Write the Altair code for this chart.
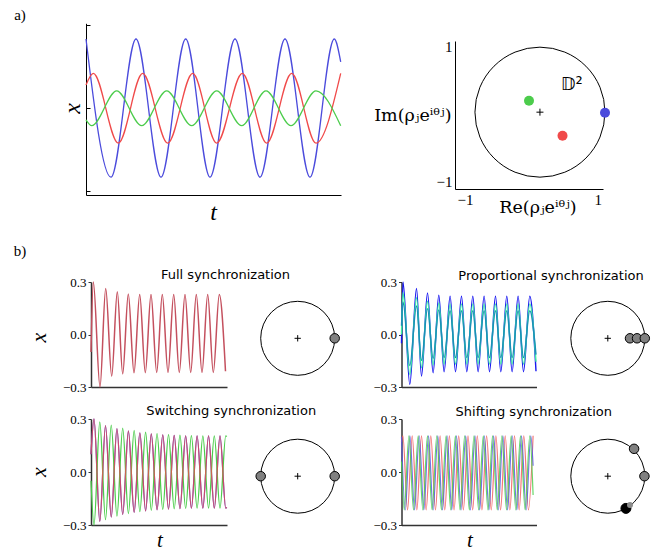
import altair as alt
import pandas as pd

W, H = 648, 542

# ---------------- panel a) : time series (extrema read from the picture) ----
A_BLUE_T = [0, 25, 50, 75, 99.7, 124, 149, 174, 199, 224, 248.3, 254.7]
A_BLUE_X = [0.835, -0.83, 0.835, -0.83, 0.835, -0.83, 0.835, -0.83, 0.835, -0.83, 0.835, 0.56]
A_RED_T = [0, 7.3, 32.3, 56.7, 81.7, 106.7, 130.7, 156.3, 180.7, 205.7, 230, 254.7]
A_RED_X = [0.28, 0.42, -0.42, 0.42, -0.42, 0.42, -0.42, 0.42, -0.42, 0.42, -0.42, 0.42]
A_GREEN_T = [0, 5.7, 30.7, 55.7, 80.7, 105.7, 130.7, 155.7, 180, 205, 230, 254.7]
A_GREEN_X = [-0.14, -0.21, 0.21, -0.21, 0.21, -0.21, 0.21, -0.21, 0.21, -0.21, 0.21, -0.21]

# panel a) : unit disk
DISK_CENTER = [0.13, 0.03]
DISK_DOT_X = [-0.035, 0.47, 1.11]
DISK_DOT_Y = [0.2, -0.32, 0.02]
DISK_DOT_COLOR = ["#4ccc4c", "#f04a4a", "#4b4bdc"]

# ---------------- panel b) : Full synchronization ----
FULL_T = [0, 2.3, 9, 14.7, 20.7, 26.3, 31.7, 37.3, 43, 48.7, 54.3, 60, 65.7, 71.3,
          77, 82.7, 88.3, 94, 99.7, 105.3, 111, 116.7, 122.3, 128.3, 134.5]
FULL_X = [-0.1, 0.3, -0.3, 0.263, -0.238, 0.244, -0.225, 0.232, -0.219, 0.229,
          -0.218, 0.228, -0.217, 0.228, -0.217, 0.228, -0.217, 0.228, -0.217, 0.228,
          -0.217, 0.228, -0.217, 0.228, -0.21]
FULL_DOT_X = [1.0]
FULL_DOT_Y = [0.0]

# Proportional synchronization
PROP_T = [0, 1.5, 8.3, 15, 20, 26, 31.6, 37.3, 42.6, 48.6, 54, 60, 65.3, 71.3,
          76.6, 82.6, 88, 94, 99.3, 105.3, 110.6, 116.6, 122, 128.3, 134.5]
PROP_BLUE = [-0.05, 0.3, -0.286, 0.263, -0.238, 0.238, -0.219, 0.225, -0.213, 0.219,
             -0.213, 0.219, -0.213, 0.219, -0.213, 0.219, -0.213, 0.219, -0.213, 0.219,
             -0.213, 0.219, -0.213, 0.219, -0.21]
PROP_GREEN = [0.0, 0.24, -0.229, 0.21, -0.19, 0.19, -0.175, 0.18, -0.17, 0.175,
              -0.17, 0.175, -0.17, 0.175, -0.17, 0.175, -0.17, 0.175, -0.17, 0.175,
              -0.17, 0.175, -0.17, 0.175, -0.156]
PROP_TEAL = [0.05, 0.186, -0.177, 0.163, -0.148, 0.148, -0.136, 0.14, -0.132, 0.136,
             -0.132, 0.136, -0.132, 0.136, -0.132, 0.136, -0.132, 0.136, -0.132, 0.136,
             -0.132, 0.136, -0.132, 0.136, -0.115]
PROP_DOT_X = [0.6, 0.79, 1.0]
PROP_DOT_Y = [0.0, 0.0, 0.0]

# Switching synchronization
SWITCH_T = [0, 3.0, 8.8, 14.5, 20.25, 25.95, 31.7, 37.4, 43.15, 48.85, 54.6, 60.3,
            66.05, 71.75, 77.5, 83.2, 88.95, 94.65, 100.4, 106.1, 111.85, 117.55,
            123.3, 129.0, 134.75, 135.7]
SWITCH_RED = [0.1, 0.3, -0.28, 0.262, -0.255, 0.245, -0.24, 0.232, -0.228, 0.222,
              -0.22, 0.215, -0.214, 0.21, -0.21, 0.207, -0.207, 0.205, -0.205, 0.205,
              -0.205, 0.205, -0.205, 0.205, -0.205, -0.2]
SWITCH_BLUE = [0.1, 0.3, -0.28, 0.262, -0.255, 0.245, -0.24, 0.232, -0.228, 0.222,
               -0.22, 0.215, -0.214, 0.21, -0.21, 0.207, -0.207, 0.205, -0.205, 0.205,
               -0.205, 0.205, -0.205, 0.205, -0.205, -0.2]
SWITCH_GREEN = [-0.05, -0.3, 0.283, -0.27, 0.265, -0.25, 0.248, -0.235, 0.235, -0.224,
                0.225, -0.217, 0.217, -0.212, 0.212, -0.208, 0.208, -0.206, 0.206, -0.205,
                0.205, -0.205, 0.205, -0.205, 0.205, 0.2]
SWITCH_DOT_X = [-1.0, 1.0]
SWITCH_DOT_Y = [0.0, 0.0]

# Shifting synchronization
SHIFT_BLUE_T = [0, 3.75, 8.4, 13.05, 17.7, 22.35, 27.0, 31.65, 36.3, 40.95, 45.6, 50.25,
                54.9, 59.55, 64.2, 68.85, 73.5, 78.15, 82.8, 87.45, 92.1, 96.75, 101.4,
                106.05, 110.7, 115.35, 120.0, 124.65, 129.3, 131.6]
SHIFT_BLUE_X = [0.2, -0.215, 0.205, -0.215, 0.205, -0.215, 0.205, -0.215, 0.205, -0.215,
                0.205, -0.215, 0.205, -0.215, 0.205, -0.215, 0.205, -0.215, 0.205, -0.215,
                0.205, -0.215, 0.205, -0.215, 0.205, -0.215, 0.205, -0.215, 0.205, 0.035]
SHIFT_GREEN_T = [0, 2.75, 7.4, 12.05, 16.7, 21.35, 26.0, 30.65, 35.3, 39.95, 44.6, 49.25,
                 53.9, 58.55, 63.2, 67.85, 72.5, 77.15, 81.8, 86.45, 91.1, 95.75, 100.4,
                 105.05, 109.7, 114.35, 119.0, 123.65, 128.3, 131.6]
SHIFT_GREEN_X = [0.06, -0.215, 0.205, -0.215, 0.205, -0.215, 0.205, -0.215, 0.205, -0.215,
                 0.205, -0.215, 0.205, -0.215, 0.205, -0.215, 0.205, -0.215, 0.205, -0.215,
                 0.205, -0.215, 0.205, -0.215, 0.205, -0.215, 0.205, -0.215, 0.205, -0.13]
SHIFT_RED_T = [0, 1.4, 6.05, 10.7, 15.35, 20.0, 24.65, 29.3, 33.95, 38.6, 43.25, 47.9,
               52.55, 57.2, 61.85, 66.5, 71.15, 75.8, 80.45, 85.1, 89.75, 94.4, 99.05,
               103.7, 108.35, 113.0, 117.65, 122.3, 126.95, 131.6]
SHIFT_RED_X = [0.17, 0.205, -0.215, 0.205, -0.215, 0.205, -0.215, 0.205, -0.215, 0.205,
               -0.215, 0.205, -0.215, 0.205, -0.215, 0.205, -0.215, 0.205, -0.215, 0.205,
               -0.215, 0.205, -0.215, 0.205, -0.215, 0.205, -0.215, 0.205, -0.215, 0.205]
SHIFT_GREY_X = [0.71, 0.99]
SHIFT_GREY_Y = [0.74, 0.0]
SHIFT_BLACK_X = [0.49]
SHIFT_BLACK_Y = [-0.87]
SHIFT_SMALL_X = [0.6]
SHIFT_SMALL_Y = [-0.78]

TITLES = ["Full synchronization", "Proportional synchronization",
          "Switching synchronization", "Shifting synchronization"]

SERIF = "Liberation Serif, DejaVu Serif, serif"
MATH = "DejaVu Serif, Liberation Serif, serif"
SANS = "DejaVu Sans, sans-serif"
PLUS = "M-1,0L1,0M0,-1L0,1"

BLUE, RED, GREEN = "#4b4bdc", "#f04a4a", "#4ccc4c"


def sc(dom, rng):
    return alt.Scale(domain=dom, range=rng, nice=False, zero=False)


def line(t, x, color, xs, ys, width=1.3, opacity=1.0, xaxis=None, yaxis=None):
    df = pd.DataFrame({"t": t, "x": x})
    return alt.Chart(df).mark_line(interpolate="monotone", color=color,
                                   strokeWidth=width, opacity=opacity).encode(
        x=alt.X("t:Q", scale=xs, axis=xaxis),
        y=alt.Y("x:Q", scale=ys, axis=yaxis),
    )


def dots(xv, yv, xs, ys, fill, size, stroke="black", sw=1.0):
    df = pd.DataFrame({"re": xv, "im": yv})
    return alt.Chart(df).mark_circle(color=fill, size=size, stroke=stroke,
                                     strokeWidth=sw, opacity=1).encode(
        x=alt.X("re:Q", scale=xs, axis=None),
        y=alt.Y("im:Q", scale=ys, axis=None),
    )


def ring(center, xs, ys, diam, xaxis=None, yaxis=None, plus=40):
    df = pd.DataFrame({"re": [center[0]], "im": [center[1]]})
    c = alt.Chart(df).mark_point(shape="circle", filled=False, color="black",
                                 strokeWidth=1, size=diam * diam, opacity=1).encode(
        x=alt.X("re:Q", scale=xs, axis=xaxis),
        y=alt.Y("im:Q", scale=ys, axis=yaxis),
    )
    p = alt.Chart(df).mark_point(shape=PLUS, filled=False, color="black",
                                 strokeWidth=1, size=plus, opacity=1).encode(
        x=alt.X("re:Q", scale=xs, axis=None),
        y=alt.Y("im:Q", scale=ys, axis=None),
    )
    return [c, p]


def label(text, x, y, size, font, style="normal"):
    return alt.Chart(pd.DataFrame({"s": [text]})).mark_text(
        font=font, fontSize=size, fontStyle=style, align="center",
        baseline="middle", color="black").encode(
        x=alt.value(x), y=alt.value(y), text="s:N")


layers = []

# ----- panel a) left -----
AX = sc([0, 255], [78, 333])
AY = sc([-1.045, 1.024], [187, 15.3])
a_y = alt.Axis(orient="left", offset=-78, values=[-1, 0, 1], labels=False, ticks=False,
               grid=False, domainColor="black", domainWidth=1, title="x",
               titleFont=SERIF, titleFontSize=24, titleFontStyle="italic",
               titleFontWeight="normal", titleColor="black", titleAngle=270,
               titleAlign="center", titleBaseline="middle", titleX=-14, titleY=100)
a_x = alt.Axis(orient="bottom", offset=187 - H, labels=False, ticks=False, grid=False,
               domainColor="black", domainWidth=1, title="t", titleFont=SERIF,
               titleFontSize=24, titleFontStyle="italic", titleFontWeight="normal",
               titleColor="black", titleAngle=0, titleAlign="center",
               titleBaseline="middle", titleX=205, titleY=17)
a_ticks = alt.Axis(orient="right", offset=78 - W, values=[-1, 0, 1], labels=False,
                   domain=False, tickSize=4, tickColor="black", tickWidth=1,
                   grid=False, title=None)
layers.append(line(A_BLUE_T, A_BLUE_X, BLUE, AX, AY, xaxis=a_x, yaxis=a_y))
layers.append(line(A_RED_T, A_RED_X, RED, AX, AY, yaxis=a_ticks))
layers.append(line(A_GREEN_T, A_GREEN_X, GREEN, AX, AY))

# ----- panel a) right : disk -----
DX = sc([-1.15, 1.08], [447, 595])
DY = sc([-1.108, 1.084], [181, 33])
d_y = alt.Axis(orient="left", offset=-447, values=[-1, 1], format=".0f", ticks=False,
               tickSize=0, labelFont=SERIF, labelFontSize=15, labelPadding=3,
               labelColor="black", domainColor="black", domainWidth=1, grid=False,
               title="Im(ρⱼeⁱᶿʲ)", titleFont=MATH, titleFontSize=17.5,
               titleFontWeight="normal", titleColor="black", titleAngle=0,
               titleAlign="right", titleBaseline="middle", titleX=-4, titleY=107)
d_x = alt.Axis(orient="bottom", offset=181 - H, values=[-1, 1], format=".0f",
               ticks=False, tickSize=0, labelFont=SERIF, labelFontSize=15,
               labelPadding=3, labelColor="black", domainColor="black",
               domainWidth=1, grid=False, title="Re(ρⱼeⁱᶿʲ)", titleFont=MATH,
               titleFontSize=17.5, titleFontWeight="normal", titleColor="black",
               titleAngle=0, titleAlign="center", titleBaseline="middle",
               titleX=529.5, titleY=18)
layers += ring(DISK_CENTER, DX, DY, 130, xaxis=d_x, yaxis=d_y, plus=49)
for xv, yv, col in zip(DISK_DOT_X, DISK_DOT_Y, DISK_DOT_COLOR):
    layers.append(dots([xv], [yv], DX, DY, col, 100, stroke=col, sw=0))
layers.append(alt.Chart(pd.DataFrame({"re": [0.61], "im": [0.43], "s": ["𝔻²"]}))
              .mark_text(font="DejaVu Sans, DejaVu Serif, sans-serif", fontSize=18,
                         color="black", align="center", baseline="middle")
              .encode(x=alt.X("re:Q", scale=DX, axis=None),
                      y=alt.Y("im:Q", scale=DY, axis=None), text="s:N"))

# ----- panel b) -----
BLX = sc([0, 136], [83, 219])
BRX = sc([0, 135], [393.5, 528.5])
BTY = sc([-0.3, 0.3], [379, 274])
BBY = sc([-0.3, 0.3], [517, 411])
CLX = sc([-1, 1], [252.7, 326.7])
CRX = sc([-1, 1], [562.8, 636.8])
CTY = sc([-1, 1], [367.3, 293.3])
CBY = sc([-1, 1], [505.2, 431.2])


def b_y(ax_x, title_y=None):
    kw = dict(orient="left", offset=-ax_x, values=[-0.3, 0, 0.3], format=".1f",
              tickSize=3, tickColor="#333", labelPadding=2, labelFont=SERIF,
              labelFontSize=13, labelColor="black", domainColor="#333",
              domainWidth=1.5, grid=False)
    if title_y is None:
        return alt.Axis(title=None, **kw)
    return alt.Axis(title="x", titleFont=SERIF, titleFontSize=22,
                    titleFontStyle="italic", titleFontWeight="normal",
                    titleColor="black", titleAngle=270, titleAlign="center",
                    titleBaseline="middle", titleX=30 - ax_x, titleY=title_y, **kw)


def b_x(ax_y, title_x=None):
    kw = dict(orient="bottom", offset=ax_y - H, labels=False, ticks=False,
              domainColor="#333", domainWidth=1.5, grid=False)
    if title_x is None:
        return alt.Axis(title=None, **kw)
    return alt.Axis(title="t", titleFont=SERIF, titleFontSize=21,
                    titleFontStyle="italic", titleFontWeight="normal",
                    titleColor="black", titleAngle=0, titleAlign="center",
                    titleBaseline="middle", titleX=title_x, titleY=15, **kw)


# Full synchronization
layers.append(line(FULL_T, FULL_X, "#c4505e", BLX, BTY, width=1.5,
                   xaxis=b_x(379), yaxis=b_y(83, 329)))
layers += ring([0, 0], CLX, CTY, 74)
layers.append(dots(FULL_DOT_X, FULL_DOT_Y, CLX, CTY, "#808080", 90))

# Proportional synchronization
layers.append(line(PROP_T, PROP_BLUE, "#1818f0", BRX, BTY, width=1.4,
                   xaxis=b_x(379), yaxis=b_y(393.5)))
layers.append(line(PROP_T, PROP_GREEN, "#3ef0a0", BRX, BTY, width=1.4))
layers.append(line(PROP_T, PROP_TEAL, "#1a8fb8", BRX, BTY, width=1.4))
layers += ring([0, 0], CRX, CTY, 74)
layers.append(dots(PROP_DOT_X, PROP_DOT_Y, CRX, CTY, "#808080", 90))

# Switching synchronization
layers.append(line(SWITCH_T, SWITCH_BLUE, BLUE, BLX, BBY, width=1.3,
                   xaxis=b_x(517, 151.3), yaxis=b_y(83, 463.7)))
layers.append(line(SWITCH_T, SWITCH_GREEN, GREEN, BLX, BBY, width=1.3))
layers.append(line(SWITCH_T, SWITCH_RED, RED, BLX, BBY, width=1.3, opacity=0.75))
layers += ring([0, 0], CLX, CBY, 74)
layers.append(dots(SWITCH_DOT_X, SWITCH_DOT_Y, CLX, CBY, "#808080", 90))

# Shifting synchronization
layers.append(line(SHIFT_RED_T, SHIFT_RED_X, "#f06060", BRX, BBY, width=1.2,
                   opacity=0.85, xaxis=b_x(517, 461.3), yaxis=b_y(393.5)))
layers.append(line(SHIFT_BLUE_T, SHIFT_BLUE_X, "#5a5ae6", BRX, BBY, width=1.2,
                   opacity=0.85))
layers.append(line(SHIFT_GREEN_T, SHIFT_GREEN_X, "#4fd04f", BRX, BBY, width=1.2,
                   opacity=0.85))
layers += ring([0, 0], CRX, CBY, 74)
layers.append(dots(SHIFT_GREY_X, SHIFT_GREY_Y, CRX, CBY, "#808080", 90))
layers.append(dots(SHIFT_BLACK_X, SHIFT_BLACK_Y, CRX, CBY, "black", 100))
layers.append(dots(SHIFT_SMALL_X, SHIFT_SMALL_Y, CRX, CBY, "#8c8c8c", 36,
                   stroke="#8c8c8c", sw=0))

# ----- annotations -----
layers.append(label("a)", 12, 7, 15, SERIF))
layers.append(label("b)", 12, 243, 15, SERIF))
layers.append(label(TITLES[0], 217.5, 266.5, 13, SANS))
layers.append(label(TITLES[1], 543, 267.5, 13, SANS))
layers.append(label(TITLES[2], 223.2, 403, 13, SANS))
layers.append(label(TITLES[3], 525.8, 404.3, 13, SANS))

chart = (
    alt.layer(*layers)
    .resolve_scale(x="independent", y="independent")
    .resolve_axis(x="independent", y="independent")
    .properties(width=W, height=H, padding=0,
                autosize=alt.AutoSizeParams(type="none"))
    .configure_view(stroke=None)
)

chart.save("out.html", embed_options={"renderer": "svg", "actions": False})
